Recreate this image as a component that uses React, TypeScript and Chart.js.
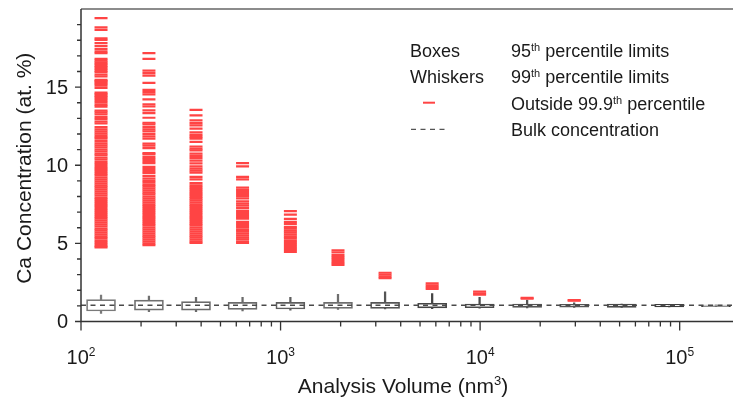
import { useEffect, useRef } from 'react';
import { Chart, registerables } from 'chart.js';

Chart.register(...registerables);

// Analysis volumes (nm^3), one per box
const volumes = [126, 219, 377, 645, 1120, 1940, 3340, 5750, 9940, 17200, 29600, 51200, 88600, 152000];
// 95th percentile limits (boxes)
const boxLow = [0.67, 0.73, 0.73, 0.78, 0.8, 0.84, 0.84, 0.87, 0.88, 0.9, 0.92, 0.9, 0.93, 0.95];
const boxHigh = [1.4, 1.37, 1.27, 1.22, 1.22, 1.22, 1.22, 1.17, 1.12, 1.12, 1.1, 1.12, 1.1, 1.05];
// 99th percentile limits (whiskers)
const whiskerLow = [0.52, 0.63, 0.63, 0.68, 0.73, 0.78, 0.8, 0.82, 0.85, 0.87, 0.9, 0.9, 0.93, 0.95];
const whiskerHigh = [1.69, 1.63, 1.55, 1.55, 1.55, 1.74, 1.9, 1.78, 1.55, 1.37, 1.2, 1.12, 1.1, 1.05];
// Bulk concentration
const bulkConcentration = 1.04;

// Values outside the 99.9th percentile, per volume column
const outliers1 = [19.42, 18.83, 18.66, 18.12, 18.02, 17.81, 17.62, 17.44, 17.29, 17.17, 16.81, 16.7, 16.59, 16.49, 16.38, 16.28, 16.17, 16.06, 15.96, 15.8, 15.68, 15.47, 15.38, 15.3, 15.21, 15.1, 14.95, 14.65, 14.55, 14.45, 14.36, 14.25, 14.12, 14.0, 13.87, 13.75, 13.5, 13.38, 13.25, 13.08, 12.95, 12.8, 12.68, 12.44, 12.3, 12.17, 12.04, 11.92, 11.8, 11.7, 11.55, 11.4, 11.27, 11.14, 11.0, 10.88, 10.75, 10.63, 10.48, 10.36, 10.2, 10.08, 9.95, 9.82, 9.7, 9.57, 9.45, 9.33, 9.2, 9.08, 8.95, 8.83, 8.7, 8.58, 8.45, 8.33, 8.2, 8.08, 7.95, 7.83, 7.7, 7.58, 7.45, 7.33, 7.2, 7.08, 6.95, 6.83, 6.7, 6.58, 6.45, 6.33, 6.2, 6.08, 5.95, 5.83, 5.7, 5.58, 5.45, 5.33, 5.2, 5.08, 4.95, 4.83, 4.74];
const outliers2 = [17.17, 16.81, 16.06, 15.89, 15.74, 15.27, 14.83, 14.68, 14.53, 14.21, 13.89, 13.76, 13.51, 13.34, 13.04, 12.72, 12.61, 12.44, 12.3, 12.17, 12.0, 11.85, 11.7, 11.38, 11.25, 11.1, 10.78, 10.7, 10.52, 10.4, 10.27, 10.14, 9.89, 9.76, 9.63, 9.5, 9.31, 9.14, 9.0, 8.88, 8.75, 8.63, 8.5, 8.38, 8.25, 8.13, 8.0, 7.88, 7.75, 7.63, 7.5, 7.38, 7.25, 7.13, 7.0, 6.88, 6.75, 6.63, 6.5, 6.38, 6.25, 6.13, 6.0, 5.88, 5.75, 5.63, 5.5, 5.38, 5.25, 5.13, 5.0, 4.89];
const outliers3 = [13.55, 13.19, 12.87, 12.7, 12.55, 12.34, 12.1, 11.95, 11.82, 11.7, 11.5, 11.2, 11.07, 10.95, 10.74, 10.6, 10.45, 10.3, 10.12, 9.93, 9.78, 9.65, 9.53, 9.25, 9.1, 8.86, 8.72, 8.6, 8.47, 8.35, 8.22, 8.1, 7.97, 7.87, 7.75, 7.63, 7.5, 7.38, 7.25, 7.13, 7.0, 6.88, 6.75, 6.63, 6.5, 6.38, 6.25, 6.13, 6.0, 5.88, 5.75, 5.63, 5.5, 5.38, 5.25, 5.13, 5.03];
const outliers4 = [10.14, 9.93, 9.25, 9.1, 8.57, 8.42, 8.29, 8.16, 8.02, 7.88, 7.69, 7.55, 7.42, 7.25, 7.08, 6.95, 6.82, 6.7, 6.59, 6.37, 6.25, 6.12, 6.0, 5.87, 5.75, 5.62, 5.5, 5.37, 5.25, 5.12, 5.03];
const outliers5 = [7.06, 6.84, 6.57, 6.37, 6.25, 6.06, 5.94, 5.82, 5.7, 5.58, 5.45, 5.33, 5.2, 5.08, 4.95, 4.83, 4.7, 4.58, 4.46];
const outliers6 = [4.56, 4.42, 4.25, 4.12, 4.0, 3.87, 3.74, 3.62];
const outliers7 = [3.12, 3.0, 2.88, 2.77];
const outliers8 = [2.44, 2.32, 2.2, 2.09];
const outliers9 = [1.92, 1.8, 1.72];
const outliers10 = [1.51, 1.47];
const outliers11 = [1.37, 1.34];
const outlierColumns = [outliers1, outliers2, outliers3, outliers4, outliers5, outliers6, outliers7, outliers8, outliers9, outliers10, outliers11];

// Axes
const xMin = 100;
const xMax = 185000;
const yMin = 0;
const yMax = 20;
const yMajorTicks = [0, 5, 10, 15];
const yTickLabels = ['0', '5', '10', '15'];
const yMinorTicks = [1, 2, 3, 4, 6, 7, 8, 9, 11, 12, 13, 14, 16, 17, 18, 19];
const xMajorTicks = [100, 1000, 10000, 100000];
const xTickBase = ['10', '10', '10', '10'];
const xTickExp = ['2', '3', '4', '5'];
const xMinorMultipliers = [2, 3, 4, 5, 6, 7, 8, 9];

const xTitle = ['Analysis Volume (nm', '3', ')'];
const yTitle = 'Ca Concentration (at. %)';

const legendLeft = ['Boxes', 'Whiskers', '', ''];
const legendRight = [
  ['95', 'th', ' percentile limits'],
  ['99', 'th', ' percentile limits'],
  ['Outside 99.9', 'th', ' percentile'],
  ['Bulk concentration', '', ''],
];

// Styles (kept apart from the data)
const FONT = '"Liberation Sans", Arial, Helvetica, sans-serif';
const RED = '#ff4444';
const boxColors = ['#7a7a7a', '#707070', '#6a6a6a', '#6a6a6a', '#5e5e5e', '#6e6e6e', '#555555', '#454545', '#4a4a4a', '#555555', '#555555', '#4a4a4a', '#3c3c3c', '#3c3c3c'];

function drawSup(ctx: CanvasRenderingContext2D, x: number, y: number, parts: string[], size: number, supSize: number, rise: number, align: 'left' | 'center') {
  ctx.font = `${size}px ${FONT}`;
  const w1 = ctx.measureText(parts[0]).width;
  const w3 = ctx.measureText(parts[2] || '').width;
  ctx.font = `${supSize}px ${FONT}`;
  const w2 = ctx.measureText(parts[1] || '').width;
  let sx = x;
  if (align === 'center') sx = x - (w1 + w2 + w3) / 2;
  ctx.textAlign = 'left';
  ctx.textBaseline = 'alphabetic';
  ctx.font = `${size}px ${FONT}`;
  ctx.fillText(parts[0], sx, y);
  ctx.font = `${supSize}px ${FONT}`;
  if (parts[1]) ctx.fillText(parts[1], sx + w1, y - rise);
  ctx.font = `${size}px ${FONT}`;
  if (parts[2]) ctx.fillText(parts[2], sx + w1 + w2, y);
}

const decorPlugin = {
  id: 'decor',
  afterDraw(chart: any) {
    const { ctx, chartArea: a } = chart;
    const x = chart.scales.x;
    const y = chart.scales.y;
    ctx.save();
    // top frame line
    ctx.strokeStyle = '#8c8c8c';
    ctx.lineWidth = 2;
    ctx.beginPath();
    ctx.moveTo(a.left, a.top);
    ctx.lineTo(a.right, a.top);
    ctx.stroke();
    // axes lines
    ctx.strokeStyle = '#333';
    ctx.lineWidth = 1.5;
    ctx.beginPath();
    ctx.moveTo(a.left, a.top);
    ctx.lineTo(a.left, a.bottom);
    ctx.lineTo(a.right, a.bottom);
    ctx.stroke();
    // y ticks
    ctx.lineWidth = 1.3;
    ctx.beginPath();
    yMajorTicks.forEach((v) => {
      const py = y.getPixelForValue(v);
      ctx.moveTo(a.left - 6, py);
      ctx.lineTo(a.left, py);
    });
    yMinorTicks.forEach((v) => {
      const py = y.getPixelForValue(v);
      ctx.moveTo(a.left - 4, py);
      ctx.lineTo(a.left, py);
    });
    // x ticks
    xMajorTicks.forEach((v) => {
      const px = x.getPixelForValue(v);
      if (px > a.right + 0.5) return;
      ctx.moveTo(px, a.bottom);
      ctx.lineTo(px, a.bottom + 9);
      xMinorMultipliers.forEach((m) => {
        const mpx = x.getPixelForValue(v * m);
        if (mpx > a.right) return;
        ctx.moveTo(mpx, a.bottom);
        ctx.lineTo(mpx, a.bottom + 5);
      });
    });
    ctx.stroke();
    // y tick labels
    ctx.fillStyle = '#1a1a1a';
    ctx.font = `20px ${FONT}`;
    ctx.textAlign = 'right';
    ctx.textBaseline = 'middle';
    yMajorTicks.forEach((v, i) => {
      ctx.fillText(yTickLabels[i], a.left - 13, y.getPixelForValue(v) + 1);
    });
    // x tick labels
    xMajorTicks.forEach((v, i) => {
      const px = x.getPixelForValue(v);
      drawSup(ctx, px, a.bottom + 42, [xTickBase[i], xTickExp[i], ''], 20, 12, 8, 'center');
    });
    // axis titles
    drawSup(ctx, (a.left + a.right) / 2 - 4, 393, xTitle, 21, 13, 8, 'center');
    ctx.save();
    ctx.translate(31, (a.top + a.bottom) / 2 + 3);
    ctx.rotate(-Math.PI / 2);
    ctx.font = `21px ${FONT}`;
    ctx.textAlign = 'center';
    ctx.textBaseline = 'alphabetic';
    ctx.fillText(yTitle, 0, 0);
    ctx.restore();
    // legend
    const baselines = [56.5, 83, 109.5, 135.5];
    legendLeft.forEach((t, i) => {
      if (t) {
        ctx.font = `18px ${FONT}`;
        ctx.textAlign = 'left';
        ctx.textBaseline = 'alphabetic';
        ctx.fillText(t, 410, baselines[i]);
      }
    });
    legendRight.forEach((p, i) => drawSup(ctx, 511, baselines[i], p, 18, 11, 6, 'left'));
    // legend symbols
    ctx.strokeStyle = RED;
    ctx.lineWidth = 2;
    ctx.beginPath();
    ctx.moveTo(423, 102.7);
    ctx.lineTo(435, 102.7);
    ctx.stroke();
    ctx.strokeStyle = '#555';
    ctx.lineWidth = 1.3;
    ctx.setLineDash([5, 4.5]);
    ctx.beginPath();
    ctx.moveTo(411, 129.3);
    ctx.lineTo(447, 129.3);
    ctx.stroke();
    ctx.restore();
  },
};

export default function App() {
  const ref = useRef<HTMLCanvasElement>(null);
  useEffect(() => {
    if (!ref.current) return;
    const outlierData = outlierColumns.flatMap((vals, i) => vals.map((v) => ({ x: volumes[i], y: v })));
    const chart = new Chart(ref.current, {
      type: 'bar',
      data: {
        datasets: [
          {
            type: 'line',
            data: [
              { x: xMin, y: bulkConcentration },
              { x: xMax, y: bulkConcentration },
            ],
            borderColor: '#4a4a4a',
            borderWidth: 1.3,
            borderDash: [5, 4.5],
            pointRadius: 0,
            order: 0,
          } as any,
          {
            type: 'scatter',
            data: outlierData,
            pointStyle: 'line',
            pointRadius: 6.5,
            borderWidth: 2.2,
            borderColor: RED,
            backgroundColor: RED,
            order: 1,
          } as any,
          {
            type: 'bar',
            data: volumes.map((v, i) => ({ x: v, y: [boxLow[i], boxHigh[i]] })),
            backgroundColor: '#ffffff',
            borderColor: boxColors,
            borderWidth: 1.7,
            borderSkipped: false,
            barThickness: 29,
            grouped: false,
            order: 2,
          } as any,
          {
            type: 'bar',
            data: volumes.map((v, i) => ({ x: v, y: [whiskerLow[i], whiskerHigh[i]] })),
            backgroundColor: boxColors,
            borderWidth: 0,
            barThickness: 1.6,
            grouped: false,
            order: 3,
          } as any,
        ],
      },
      options: {
        animation: false,
        responsive: false,
        events: [],
        layout: { autoPadding: false, padding: { left: 81, top: 9, right: 0, bottom: 77.5 } },
        plugins: { legend: { display: false }, tooltip: { enabled: false } },
        scales: {
          x: { type: 'logarithmic', min: xMin, max: xMax, display: false, offset: false },
          y: { type: 'linear', min: yMin, max: yMax, display: false },
        },
      } as any,
      plugins: [decorPlugin],
    });
    return () => chart.destroy();
  }, []);
  return (
    <div style={{ position: 'absolute', left: 0, top: 0, width: 733, height: 399, background: '#fff' }}>
      <canvas ref={ref} width={733} height={399} style={{ display: 'block' }} />
    </div>
  );
}
